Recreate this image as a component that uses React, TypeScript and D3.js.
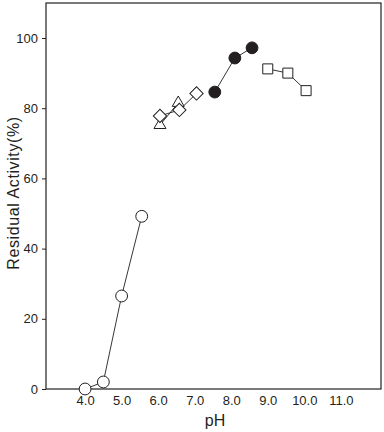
import * as React from 'react';
import * as d3 from 'd3';

// pH stability series
const acidPH = [4.0, 4.5, 5.0, 5.55];
const acidActivity = [0, 2, 26.5, 49.2];

const trianglePH = [6.05, 6.55];
const triangleActivity = [75.2, 81.5];

const diamondPH = [6.05, 6.58, 7.05];
const diamondActivity = [77.8, 79.5, 84.2];

const filledPH = [7.55, 8.1, 8.57];
const filledActivity = [84.6, 94.3, 97.2];

const squarePH = [9.0, 9.55, 10.05];
const squareActivity = [91.2, 90, 85];

const xTicks = [4, 5, 6, 7, 8, 9, 10, 11];
const yTicks = [0, 20, 40, 60, 80, 100];

const font = 'Liberation Sans, Arial, sans-serif';

export default function App() {
  const ref = React.useRef<SVGSVGElement>(null);

  React.useEffect(() => {
    const svg = d3.select(ref.current);
    svg.selectAll('*').remove();

    const left = 46, top = 3, right = 381, bottom = 389;
    const x = d3.scaleLinear().domain([2.93, 12.1]).range([left, right]);
    const y = d3.scaleLinear().domain([0, 100]).range([bottom, 38]);

    svg.append('rect')
      .attr('x', left).attr('y', top)
      .attr('width', right - left).attr('height', bottom - top)
      .attr('fill', 'none').attr('stroke', '#231f20').attr('stroke-width', 1.2);

    const yAxis = svg.append('g')
      .attr('transform', `translate(${left},0)`)
      .call(d3.axisLeft(y).tickValues(yTicks).tickSize(4).tickPadding(4).tickFormat(d3.format('d')));
    yAxis.select('.domain').remove();
    yAxis.selectAll('line').attr('stroke', '#231f20');
    yAxis.selectAll('text').attr('font-family', font).attr('font-size', 13).attr('fill', '#231f20');

    const xAxis = svg.append('g')
      .attr('transform', `translate(0,${bottom})`)
      .call(d3.axisBottom(x).tickValues(xTicks).tickSize(0).tickPadding(7).tickFormat(d3.format('.1f')));
    xAxis.select('.domain').remove();
    xAxis.selectAll('text').attr('font-family', font).attr('font-size', 13).attr('fill', '#231f20');

    svg.append('text')
      .attr('x', 215).attr('y', 426)
      .attr('text-anchor', 'middle')
      .attr('font-family', font).attr('font-size', 16).attr('fill', '#231f20')
      .text('pH');

    svg.append('text')
      .attr('transform', 'translate(19,193) rotate(-90)')
      .attr('text-anchor', 'middle')
      .attr('font-family', font).attr('font-size', 16).attr('letter-spacing', 0.6).attr('fill', '#231f20')
      .text('Residual Activity(%)');

    const line = d3.line<[number, number]>().x(d => x(d[0])).y(d => y(d[1]));
    const zip = (a: number[], b: number[]) => a.map((v, i) => [v, b[i]] as [number, number]);

    const series = [
      { pts: zip(acidPH, acidActivity), sym: d3.symbolCircle, size: 110, fill: '#fff' },
      { pts: zip(trianglePH, triangleActivity), sym: d3.symbolTriangle, size: 62, fill: '#fff' },
      { pts: zip(diamondPH, diamondActivity), sym: d3.symbolSquare, size: 88, fill: '#fff', rot: 45 },
      { pts: zip(filledPH, filledActivity), sym: d3.symbolCircle, size: 110, fill: '#231f20' },
      { pts: zip(squarePH, squareActivity), sym: d3.symbolSquare, size: 100, fill: '#fff' },
    ];

    series.forEach(s => {
      svg.append('path')
        .attr('d', line(s.pts))
        .attr('fill', 'none').attr('stroke', '#231f20').attr('stroke-width', 0.9);
    });
    series.forEach(s => {
      svg.append('g').selectAll('path')
        .data(s.pts)
        .join('path')
        .attr('transform', d => `translate(${x(d[0])},${y(d[1])}) rotate(${s.rot ?? 0})`)
        .attr('d', d3.symbol().type(s.sym).size(s.size)())
        .attr('fill', s.fill)
        .attr('stroke', '#231f20').attr('stroke-width', 1);
    });
  }, []);

  return <svg ref={ref} width={384} height={432} style={{ position: 'absolute', left: 0, top: 0 }} />;
}
